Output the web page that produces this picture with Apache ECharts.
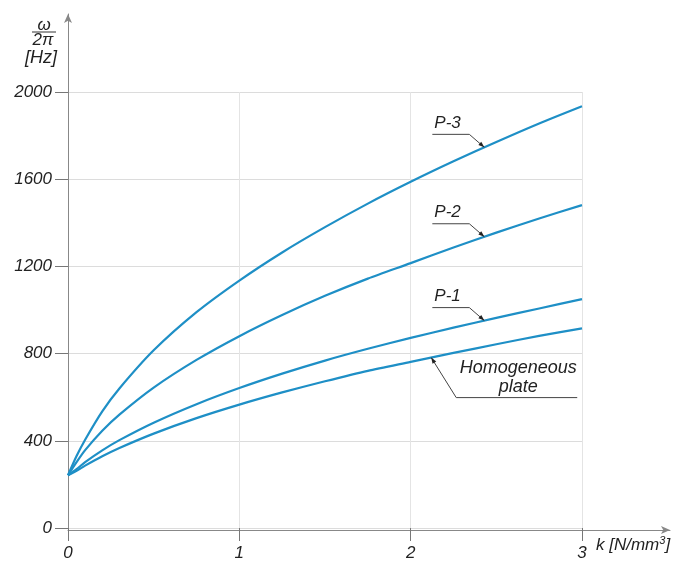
<!DOCTYPE html>
<html>
<head>
<meta charset="utf-8">
<script src="https://cdn.jsdelivr.net/npm/echarts@6/dist/echarts.min.js"></script>
<style>
  html, body { margin: 0; padding: 0; background: #fff; }
  #chart { width: 676px; height: 562px; }
</style>
</head>
<body>
<div id="chart"></div>
<script>
// stiffness k [N/mm^3]
const kValues = [0, 0.05, 0.1, 0.2, 0.3, 0.5, 0.75, 1, 1.25, 1.5, 1.75, 2, 2.25, 2.5, 2.75, 3];
// natural frequency omega/2pi [Hz]
const homogeneous = [242, 262, 286, 329, 367, 433, 504, 566, 622, 673, 721, 762, 803, 843, 881, 916];
const p1 = [242, 270, 302, 356, 403, 483, 568, 642, 708, 768, 822, 872, 919, 964, 1007, 1050];
const p2 = [242, 302, 357, 446, 520, 644, 771, 880, 977, 1065, 1144, 1215, 1287, 1355, 1420, 1481];
const p3 = [242, 330, 405, 535, 640, 815, 990, 1135, 1264, 1380, 1488, 1588, 1682, 1771, 1856, 1935];

const xTicks = [0, 1, 2, 3];
const yTicks = [0, 400, 800, 1200, 1600, 2000];

// where each label's arrow touches its curve (k value)
const labels = [
  { name: "P-3", data: p3, k: 2.43 },
  { name: "P-2", data: p2, k: 2.43 },
  { name: "P-1", data: p1, k: 2.43 },
];
const homogLabel = { name: "Homogeneous\nplate", data: homogeneous, k: 2.12 };

const FONT = "'Liberation Sans', Arial, sans-serif";
const LINE_COLOR = "#1e8fc6";
const TXT = "#222";

function pairs(vals) {
  return kValues.map((k, i) => [k, vals[i]]);
}
function interp(vals, k) {
  for (let i = 1; i < kValues.length; i++) {
    if (k <= kValues[i]) {
      const t = (k - kValues[i - 1]) / (kValues[i] - kValues[i - 1]);
      return vals[i - 1] + t * (vals[i] - vals[i - 1]);
    }
  }
  return vals[vals.length - 1];
}

const chart = echarts.init(document.getElementById("chart"));

const labelStyle = { fontStyle: "italic", fontSize: 17, color: TXT, fontFamily: FONT };

function curve(name, vals) {
  return {
    name: name,
    type: "line",
    xAxisIndex: 0,
    yAxisIndex: 0,
    data: pairs(vals),
    smooth: 0.25,
    showSymbol: false,
    lineStyle: { color: LINE_COLOR, width: 2.2 },
    z: 5,
  };
}

let option = {
  animation: false,
  backgroundColor: "#fff",
  grid: [
    { left: 68, right: 94, top: 92, bottom: 32 },
    // only carries the long arrowed axis lines
    { left: 68, right: 6, top: 14, bottom: 32 },
  ],
  xAxis: [
    {
      type: "value",
      gridIndex: 0,
      min: xTicks[0],
      max: xTicks[xTicks.length - 1],
      interval: 1,
      axisLine: { show: false },
      axisTick: { show: true, length: 13, lineStyle: { color: "#777" } },
      axisLabel: Object.assign({ margin: 17 }, labelStyle),
      splitLine: { show: true, lineStyle: { color: "#e4e4e4", width: 1 } },
    },
    {
      type: "value",
      gridIndex: 1,
      min: 0,
      max: 1,
      axisLine: {
        show: true,
        symbol: ["none", "arrow"],
        symbolSize: [6, 9],
        lineStyle: { color: "#888", width: 1 },
      },
      axisTick: { show: false },
      axisLabel: { show: false },
      splitLine: { show: false },
    },
  ],
  yAxis: [
    {
      type: "value",
      gridIndex: 0,
      min: yTicks[0],
      max: yTicks[yTicks.length - 1],
      interval: 400,
      axisLine: { show: false },
      axisTick: { show: true, length: 13, lineStyle: { color: "#777" } },
      axisLabel: Object.assign({ margin: 16, formatter: (v) => String(v) }, labelStyle),
      splitLine: { show: true, lineStyle: { color: "#dcdcdc", width: 1 } },
    },
    {
      type: "value",
      gridIndex: 1,
      min: 0,
      max: 1,
      axisLine: {
        show: true,
        symbol: ["none", "arrow"],
        symbolSize: [6, 9],
        lineStyle: { color: "#888", width: 1 },
      },
      axisTick: { show: false },
      axisLabel: { show: false },
      splitLine: { show: false },
    },
  ],
  series: [
    curve("Homogeneous plate", homogeneous),
    curve("P-1", p1),
    curve("P-2", p2),
    curve("P-3", p3),
  ],
};
chart.setOption(option);

// annotations placed from data coordinates
function arrowHead(from, tip) {
  const dx = tip[0] - from[0];
  const dy = tip[1] - from[1];
  const len = Math.sqrt(dx * dx + dy * dy);
  const ux = dx / len, uy = dy / len;
  const bx = tip[0] - ux * 6, by = tip[1] - uy * 6;
  return {
    type: "polygon",
    shape: { points: [tip, [bx - uy * 2.2, by + ux * 2.2], [bx + uy * 2.2, by - ux * 2.2]] },
    style: { fill: "#222" },
    z: 10,
  };
}

const graphics = [];
labels.forEach((lb) => {
  const tip = chart.convertToPixel({ xAxisIndex: 0, yAxisIndex: 0 }, [lb.k, interp(lb.data, lb.k)]);
  const elbow = [tip[0] - 15, tip[1] - 13];
  const start = [tip[0] - 52, tip[1] - 13];
  graphics.push({
    type: "polyline",
    shape: { points: [start, elbow, tip] },
    style: { stroke: "#444", lineWidth: 1, fill: null },
    z: 10,
  });
  graphics.push(arrowHead(elbow, tip));
  graphics.push({
    type: "text",
    style: {
      text: lb.name, x: tip[0] - 50, y: tip[1] - 16,
      font: "italic 17px " + FONT, fill: TXT,
      align: "left", verticalAlign: "bottom",
    },
    z: 10,
  });
});

{
  const tip = chart.convertToPixel({ xAxisIndex: 0, yAxisIndex: 0 }, [homogLabel.k, interp(homogLabel.data, homogLabel.k)]);
  const elbow = [tip[0] + 25, tip[1] + 40];
  const end = [tip[0] + 146, tip[1] + 40];
  graphics.push({
    type: "polyline",
    shape: { points: [tip, elbow, end] },
    style: { stroke: "#444", lineWidth: 1, fill: null },
    z: 10,
  });
  graphics.push(arrowHead(elbow, tip));
  graphics.push({
    type: "text",
    style: {
      text: homogLabel.name, x: tip[0] + 87, y: tip[1] + 1,
      font: "italic 18px " + FONT, fill: TXT, lineHeight: 19,
      align: "center", verticalAlign: "top",
    },
    z: 10,
  });
}

// axis titles
graphics.push(
  { type: "text", style: { text: "ω", x: 44, y: 25, font: "italic 17px " + FONT, fill: TXT, align: "center", verticalAlign: "middle" } },
  { type: "line", shape: { x1: 32, y1: 32, x2: 56, y2: 32 }, style: { stroke: "#333", lineWidth: 1 } },
  { type: "text", style: { text: "2π", x: 43, y: 40, font: "italic 17px " + FONT, fill: TXT, align: "center", verticalAlign: "middle" } },
  { type: "text", style: { text: "[Hz]", x: 41, y: 58, font: "italic 18px " + FONT, fill: TXT, align: "center", verticalAlign: "middle" } },
  {
    type: "text",
    style: {
      text: "{a|k [N/mm}{s|3}{a|]}", x: 596, y: 545,
      fill: TXT, align: "left", verticalAlign: "middle",
      rich: {
        a: { font: "italic 17px " + FONT, fill: TXT },
        s: { font: "italic 11px " + FONT, fill: TXT, padding: [0, 0, 9, 0] },
      },
    },
  }
);

chart.setOption({ graphic: graphics });

window.addEventListener("resize", () => chart.resize());
</script>
</body>
</html>
